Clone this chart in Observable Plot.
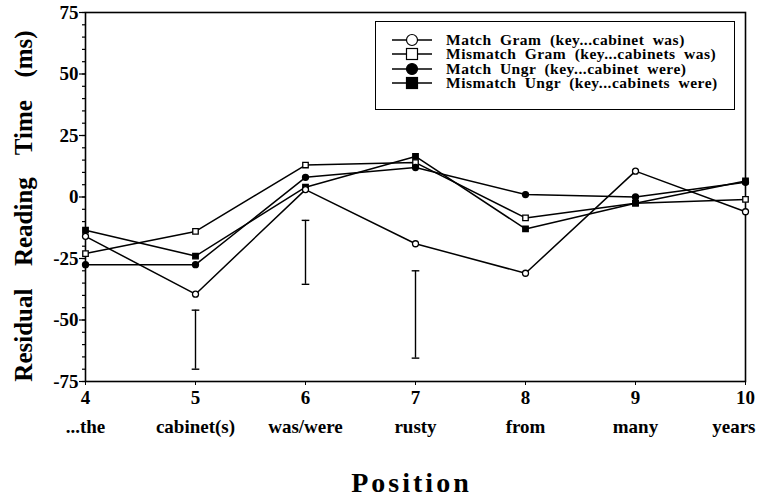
<!DOCTYPE html>
<html>
<head>
<meta charset="utf-8">
<script src="https://cdn.jsdelivr.net/npm/d3@7"></script>
<script src="https://cdn.jsdelivr.net/npm/@observablehq/plot@0.6"></script>
<style>
  html, body { margin: 0; padding: 0; background: #fff; }
  #wrap { position: relative; width: 761px; height: 497px; font-family: 'Liberation Serif'; }
  #legend { position: absolute; left: 375px; top: 21px; width: 360px; height: 89px; border: 1.5px solid #000; box-sizing: border-box; background: #fff; padding-top: 11px; }
  .row { display: flex; align-items: center; height: 14.3px; margin-left: 16px; }
  .row span { font-family: 'Liberation Serif'; font-weight: bold; font-size: 15.5px; line-height: 14px; word-spacing: 4px; letter-spacing: 0.5px; margin-left: 14px; white-space: nowrap; }
</style>
</head>
<body>
<div id="wrap"><div id="legend"></div></div>
<script>
const positions = [4, 5, 6, 7, 8, 9, 10];
const words = ["...the", "cabinet(s)", "was/were", "rusty", "from", "many", "years"];
const seriesNames = [
  "Match Gram  (key...cabinet  was)",
  "Mismatch Gram  (key...cabinets  was)",
  "Match Ungr  (key...cabinet  were)",
  "Mismatch Ungr  (key...cabinets  were)"
];
const matchGram    = [-16, -39.5, 3, -19, -31, 10.5, -6];
const mismatchGram = [-23, -14, 13, 14, -8.5, -2.5, -1];
const matchUngr    = [-27.5, -27.5, 8, 12, 1, 0, 6];
const mismatchUngr = [-13.5, -24, 4, 16.5, -13, -2.5, 6.5];
const errPositions = [5, 6, 7];
const errLow  = [-70, -35.5, -65.5];
const errHigh = [-46, -9.5, -30];
const yTicks = [-75, -50, -25, 0, 25, 50, 75];
const symbols = ["circle", "square", "circle", "square"];
const fills = ["white", "white", "black", "black"];

const allSeries = [matchGram, mismatchGram, matchUngr, mismatchUngr];
const data = allSeries.flatMap((vals, si) => vals.map((v, i) => ({
  series: seriesNames[si], si, x: positions[i], y: v
})));
const errs = errPositions.map((x, i) => ({x, lo: errLow[i], hi: errHigh[i]}));
const cap = {draw(ctx, size) { const w = Math.sqrt(size); ctx.moveTo(-w / 2, 0); ctx.lineTo(w / 2, 0); }};
const serif = "'Liberation Serif'";

const plot = Plot.plot({
  width: 761,
  height: 497,
  marginLeft: 85,
  marginRight: 16,
  marginTop: 12,
  marginBottom: 116,
  style: {fontFamily: serif, fontWeight: "bold", background: "white", overflow: "visible"},
  x: {domain: [4, 10], label: null},
  y: {domain: [-75, 75], label: null},
  marks: [
    Plot.axisY({ticks: d3.range(-75, 76, 5), tickSize: 3, tickFormat: () => "", strokeWidth: 1.2}),
    Plot.axisY({ticks: yTicks, tickSize: 6, tickPadding: 1, fontSize: 19, fontWeight: "bold", fontFamily: serif, tickFormat: d => String(d), strokeWidth: 1.2}),
    Plot.axisX({ticks: positions, tickSize: 4, tickPadding: 5, fontSize: 19, fontWeight: "bold", fontFamily: serif, tickFormat: d => String(d)}),
    Plot.text(positions.slice(0, 6), {x: d => d, text: (d, i) => words[i], frameAnchor: "bottom", dy: 51, fontSize: 19, fontWeight: "bold", fontFamily: serif}),
    Plot.text(positions.slice(6), {x: d => d, text: () => words[6], frameAnchor: "bottom", dy: 51, textAnchor: "end", dx: 10, fontSize: 19, fontWeight: "bold", fontFamily: serif}),
    Plot.text(["Residual  Reading  Time  (ms)"], {frameAnchor: "left", dx: -62, dy: 9, rotate: -90, textAnchor: "middle", fontSize: 25, fontWeight: "bold", fontFamily: serif, text: d => d}),
    Plot.text(["Position"], {frameAnchor: "bottom", dy: 110, dx: -4, fontSize: 28, fontWeight: "bold", fontFamily: serif, text: d => d}),
    Plot.frame({stroke: "black", strokeWidth: 1.6}),
    Plot.ruleX(errs, {x: "x", y1: "lo", y2: "hi", stroke: "black", strokeWidth: 1.4}),
    Plot.dot(errs, {x: "x", y: "lo", symbol: cap, r: 4.3, stroke: "black", strokeWidth: 1.4}),
    Plot.dot(errs, {x: "x", y: "hi", symbol: cap, r: 4.3, stroke: "black", strokeWidth: 1.4}),
    Plot.line(data, {x: "x", y: "y", z: "series", stroke: "black", strokeWidth: 1.5}),
    Plot.dot(data, {x: "x", y: "y", symbol: d => symbols[d.si], fill: d => fills[d.si], stroke: "black", strokeWidth: 1.3, r: d => symbols[d.si] === "square" ? 6.8 : 6.4})
  ]
});
plot.querySelectorAll("text").forEach(t => {
  t.setAttribute("font-family", "Liberation Serif");
  t.style.fontFamily = "'Liberation Serif'";
  if (t.textContent.startsWith("Residual")) t.style.wordSpacing = "5px";
  if (t.textContent === "Position") t.setAttribute("letter-spacing", "3");
});
plot.setAttribute("font-family", "Liberation Serif");
const wrap = document.getElementById("wrap");
wrap.insertBefore(plot, wrap.firstChild);

const legend = document.getElementById("legend");
seriesNames.forEach((name, i) => {
  const row = document.createElement("div");
  row.className = "row";
  const sv = d3.create("svg").attr("width", 40).attr("height", 14);
  sv.append("line").attr("x1", 0).attr("x2", 40).attr("y1", 7).attr("y2", 7).attr("stroke", "black").attr("stroke-width", 1.4);
  if (symbols[i] === "circle") sv.append("circle").attr("cx", 20).attr("cy", 7).attr("r", 5.5).attr("fill", fills[i]).attr("stroke", "black").attr("stroke-width", 1.2);
  else sv.append("rect").attr("x", 14.5).attr("y", 1.5).attr("width", 11).attr("height", 11).attr("fill", fills[i]).attr("stroke", "black").attr("stroke-width", 1.2);
  row.appendChild(sv.node());
  const sp = document.createElement("span");
  sp.textContent = name;
  row.appendChild(sp);
  legend.appendChild(row);
});
</script>
</body>
</html>
